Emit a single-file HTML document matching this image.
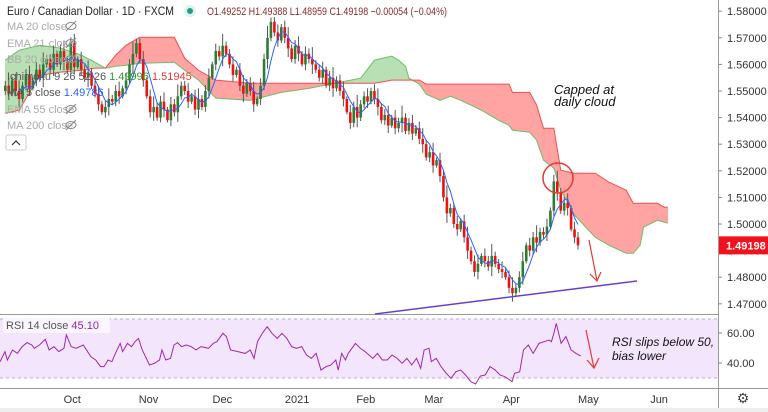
<!DOCTYPE html>
<html><head><meta charset="utf-8"><style>
html,body{margin:0;padding:0;background:#fff;width:768px;height:412px;overflow:hidden;font-family:"Liberation Sans",sans-serif}
svg{display:block}
</style></head><body>
<svg id="chart" width="768" height="412" xmlns="http://www.w3.org/2000/svg" font-family="Liberation Sans, sans-serif">
<g id="cloud"></g>
<g id="candles"></g>
<g id="ma"></g>
<rect x="0" y="314" width="718" height="75" fill="#fff"/>
<rect x="0" y="319" width="718" height="59" fill="#f3e6fc"/>
<line x1="0" y1="319" x2="718" y2="319" stroke="#b9a9c9" stroke-dasharray="3,3"/>
<line x1="0" y1="378" x2="718" y2="378" stroke="#b9a9c9" stroke-dasharray="3,3"/>
<g id="rsi"></g>
<line x1="0" y1="314.5" x2="718" y2="314.5" stroke="#9a9a9a"/>
<line x1="0" y1="388.5" x2="768" y2="388.5" stroke="#9a9a9a"/>
<line x1="718.5" y1="0" x2="718.5" y2="412" stroke="#9a9a9a"/>
<rect x="0" y="408" width="768" height="4" fill="#eee"/>
<g id="yaxis" font-size="11" fill="#333"></g>
<g id="raxis" font-size="11" fill="#333"></g>
<g id="xaxis" font-size="11" fill="#333"></g>
<text x="743" y="403" font-size="14" fill="#444" text-anchor="middle">⚙</text>

<g>
<line x1="375" y1="314" x2="637" y2="281" stroke="#6a3fc8" stroke-width="1.5"/>
<circle cx="558" cy="178" r="15" fill="none" stroke="#e53935" stroke-width="1.5"/>
<text x="554" y="94" font-size="13" font-style="italic" fill="#111">Capped at</text>
<text x="554" y="106" font-size="13" font-style="italic" fill="#111">daily cloud</text>
<line x1="589" y1="240" x2="597" y2="281" stroke="#e53935" stroke-width="1.2"/>
<polyline points="590,274 597,281 601,272" fill="none" stroke="#e53935" stroke-width="1.2"/>
<line x1="586" y1="330" x2="594" y2="368" stroke="#e53935" stroke-width="1.2"/>
<polyline points="587,360 594,368 599,358" fill="none" stroke="#e53935" stroke-width="1.2"/>
<text x="612" y="346" font-size="12" font-style="italic" fill="#111">RSI slips below 50,</text>
<text x="612" y="360" font-size="12" font-style="italic" fill="#111">bias lower</text>
</g>

<g font-size="11">
<text x="7" y="15" font-size="12" fill="#222" textLength="167" lengthAdjust="spacingAndGlyphs">Euro / Canadian Dollar · 1D · FXCM</text>
<circle cx="190" cy="11" r="6" fill="#e0f2ee"/><circle cx="190" cy="11" r="3" fill="#1e9e8a"/>
<text x="207" y="15" fill="#8b2a2a" font-size="11" textLength="240" lengthAdjust="spacingAndGlyphs">O1.49252 H1.49388 L1.48959 C1.49198 −0.00054 (−0.04%)</text>
<text x="7" y="30" fill="#aaa">MA 20 close</text>
<text x="7" y="47" fill="#aaa">EMA 21 close</text>
<text x="7" y="63" fill="#aaa">BB 20 close 2</text>
<text x="7" y="80" fill="#555">Ichimoku 9 26 52 26 <tspan fill="#2e9c2e">1.49996</tspan> <tspan fill="#e53935">1.51945</tspan></text>
<text x="7" y="96" fill="#555">MA 5 close <tspan fill="#2962ff">1.49786</tspan></text>
<text x="7" y="113" fill="#aaa">EMA 55 close</text>
<text x="7" y="129" fill="#aaa">MA 200 close</text>
<g fill="none" stroke="#888" stroke-width="1">
<ellipse cx="71" cy="26" rx="5" ry="3.5"/><line x1="66" y1="31" x2="76" y2="21"/>
<ellipse cx="71" cy="43" rx="5" ry="3.5"/><line x1="66" y1="48" x2="76" y2="38"/>
<ellipse cx="71" cy="59" rx="5" ry="3.5"/><line x1="66" y1="64" x2="76" y2="54"/>
<ellipse cx="71" cy="109" rx="5" ry="3.5"/><line x1="66" y1="114" x2="76" y2="104"/>
<ellipse cx="71" cy="125" rx="5" ry="3.5"/><line x1="66" y1="130" x2="76" y2="120"/>
</g>
<rect x="6" y="135" width="20" height="15" rx="2" fill="#fff" stroke="#ccc"/>
<polyline points="12,145 16,141 20,145" fill="none" stroke="#333" stroke-width="1.2"/>
<rect x="3" y="318" width="107" height="15" fill="#fbf6fe" opacity="0.9"/>
<text x="6" y="329" fill="#555">RSI 14 close <tspan fill="#8e24aa">45.10</tspan></text>
</g>
<g id="lastprice"></g>
</svg>
<script>
const closes=[1.5520,1.5490,1.5540,1.5500,1.5470,1.5520,1.5560,1.5510,1.5540,1.5580,1.5550,1.5600,
1.5620,1.5580,1.5640,1.5600,1.5650,1.5610,1.5580,1.5680,1.5590,
1.5620,1.5580,1.5550,1.5570,1.5520,1.5490,1.5450,
1.5420,1.5440,1.5470,1.5460,1.5500,1.5480,1.5510,
1.5540,1.5600,1.5640,1.5680,1.5620,1.5540,
1.5480,1.5420,1.5440,1.5400,1.5460,1.5430,
1.5390,1.5450,1.5420,1.5480,1.5520,1.5500,
1.5460,1.5480,1.5430,1.5470,1.5440,1.5500,
1.5550,1.5600,1.5650,1.5630,1.5670,1.5640,
1.5600,1.5560,1.5580,1.5520,1.5490,1.5530,1.5500,1.5450,1.5470,1.5520,
1.5620,1.5700,1.5760,1.5720,1.5690,1.5740,1.5700,
1.5660,1.5620,1.5670,1.5640,1.5600,1.5640,1.5620,
1.5600,1.5580,1.5550,1.5580,1.5520,1.5550,1.5510,1.5540,1.5500,1.5470,
1.5420,1.5380,1.5440,1.5400,1.5450,1.5480,1.5460,1.5500,1.5470,1.5440,
1.5390,1.5410,1.5370,1.5400,1.5360,1.5380,1.5400,1.5350,1.5380,1.5340,1.5360,1.5320,
1.5300,1.5250,1.5270,1.5220,1.5240,1.5180,
1.5100,1.5040,1.5060,1.5000,1.4980,1.5010,
1.4950,1.4900,1.4860,1.4820,1.4850,1.4880,
1.4860,1.4840,1.4880,1.4850,1.4830,1.4820,
1.4800,1.4760,1.4740,1.4760,
1.4800,1.4860,1.4920,1.4900,
1.4950,1.4930,1.4970,1.4960,1.4990,
1.5050,1.5160,1.5120,1.5050,1.5080,
1.5060,1.4980,1.4950,1.4920];
const firstOpen=1.5500;
const lastPrice="1.49198";
const wickPips=[18,30,12,25,40,15,22,35,10,28,20,45,16];
const cloudIdx=[0,4,10,16,22,26,29,32,35,39,49,52,56,61,71,80,88,97,103,107,112,114,116,117,120,122,126,129,132,138,143,146,147,152,154,156,159,161,165,171,175,180,182,184,185,189,191,192];
const spanA=[1.5616,1.5653,1.5672,1.5661,1.5635,1.5608,1.5586,1.5593,1.5597,1.5604,1.5608,1.5578,1.5541,1.5473,1.5465,1.5495,1.5510,1.5533,1.5548,1.5616,1.5631,1.5616,1.5593,1.5548,1.5526,1.5488,1.5465,1.5480,1.5465,1.5428,1.5390,1.5371,1.5353,1.5345,1.5315,1.5240,1.5210,1.5127,1.5033,1.4950,1.4920,1.4890,1.4890,1.4920,1.4988,1.5014,1.5007,1.5003];
const spanB=[1.5416,1.5428,1.5559,1.5571,1.5578,1.5586,1.5586,1.5635,1.5672,1.5702,1.5702,1.5623,1.5578,1.5541,1.5529,1.5529,1.5529,1.5529,1.5529,1.5529,1.5541,1.5541,1.5541,1.5541,1.5541,1.5526,1.5526,1.5526,1.5526,1.5526,1.5526,1.5526,1.5495,1.5495,1.5447,1.5360,1.5360,1.5202,1.5191,1.5191,1.5157,1.5127,1.5078,1.5078,1.5078,1.5078,1.5063,1.5063];
const rsiIdx=[-1.5,-0.1,0.6,2.1,3.5,4.9,6.3,7.7,8.4,9.9,11.6,12.7,14.1,15.5,17.0,17.7,19.1,20.5,22.6,24.8,26.2,27.6,28.6,29.8,30.9,31.9,33.3,34.0,35.4,36.6,37.6,38.6,39.7,41.8,43.2,44.7,45.4,46.5,47.9,48.9,49.9,51.1,52.5,53.9,55.3,56.7,58.9,60.3,61.3,63.1,64.1,65.3,67.4,69.5,71.0,72.1,73.1,74.5,75.9,77.3,78.8,80.2,81.6,83.0,84.4,85.9,87.3,88.7,90.1,91.5,93.0,94.4,95.8,96.5,97.5,98.6,99.4,101.5,102.9,104.3,106.5,107.9,109.3,110.7,112.1,113.6,115.0,116.4,117.8,119.2,120.4,121.4,122.8,123.5,124.9,126.3,127.8,129.2,130.6,132.0,133.4,134.9,136.3,137.7,139.1,140.5,142.0,143.4,144.8,146.2,146.9,147.6,149.1,150.2,151.6,153.0,154.7,156.2,157.6,158.3,159.0,159.7,161.1,162.5,164.0,165.4,166.8];
const rsiVals=[40.9,47.6,42.0,48.7,46.4,50.9,53.6,52.0,49.8,52.0,55.8,48.7,50.9,47.6,49.8,58.7,50.9,49.8,52.0,44.2,42.0,37.6,37.6,42.0,40.9,46.4,53.1,47.6,53.1,50.9,54.2,56.4,48.7,38.7,39.8,42.0,48.7,42.0,43.1,52.0,53.6,50.9,52.0,50.9,48.7,50.9,49.8,53.1,54.2,59.8,57.6,48.7,47.6,46.4,48.7,43.1,54.2,59.8,64.2,59.8,56.4,59.8,56.4,50.9,49.8,50.9,45.3,43.1,46.4,35.3,37.6,38.7,42.0,35.3,46.4,42.0,46.4,53.1,49.8,47.6,43.1,46.4,42.0,42.0,45.3,43.1,39.8,43.1,38.7,43.1,36.4,48.7,49.8,40.9,43.1,37.6,33.1,29.8,34.2,35.3,32.0,27.6,26.0,31.3,32.0,37.6,35.3,32.0,30.9,28.7,27.6,33.1,34.2,48.7,52.0,46.4,53.1,54.2,55.3,54.2,59.8,66.4,53.1,57.6,48.7,46.4,44.7];
const priceTicks=[1.58,1.57,1.56,1.55,1.54,1.53,1.52,1.51,1.50,1.49,1.48,1.47];
const rsiTicks=[60,40];
const monthLabels=["Oct","Nov","Dec","2021","Feb","Mar","Apr","May","Jun"];
const monthIdx=[19.4,41.5,62.9,84.6,104.5,124.2,146.7,169.0,189.5];

const NS="http://www.w3.org/2000/svg";
const N=closes.length, STEP=3.45, LASTX=578;
const xOf=i=>LASTX-(N-1-i)*STEP;
const yOf=p=>224+(1.50-p)/0.01*26.6;
const yR=v=>363-(v-40)*1.5;
function mk(tag,attrs,parent){const e=document.createElementNS(NS,tag);for(const k in attrs)e.setAttribute(k,attrs[k]);parent.appendChild(e);return e;}

const cg=document.getElementById('cloud');
for(let k=0;k<cloudIdx.length-1;k++){
  const x1=xOf(cloudIdx[k]),x2=xOf(cloudIdx[k+1]);
  const d=(spanA[k]-spanB[k])+(spanA[k+1]-spanB[k+1]);
  const p=mk('polygon',{points:`${x1},${yOf(spanA[k])} ${x2},${yOf(spanA[k+1])} ${x2},${yOf(spanB[k+1])} ${x1},${yOf(spanB[k])}`,fill:d>=0?'#b9dfb5':'#ffa3a3',stroke:d>=0?'#b9dfb5':'#ffa3a3','stroke-width':0.5},cg);
  
  
}
const aPts=cloudIdx.map((c,k)=>xOf(c)+','+yOf(spanA[k])).join(' ');
const bPts=cloudIdx.map((c,k)=>xOf(c)+','+yOf(spanB[k])).join(' ');
const la=mk('polyline',{points:aPts,fill:'none',stroke:'#6cbf66','stroke-width':1},cg);


const lb=mk('polyline',{points:bPts,fill:'none',stroke:'#f05050','stroke-width':1},cg);



const cdl=document.getElementById('candles');
for(let i=0;i<N;i++){
  const o=i?closes[i-1]:firstOpen,c=closes[i];
  const w=wickPips[i%wickPips.length]*0.0001;
  const hi=Math.max(o,c)+w,lo=Math.min(o,c)-w*0.8;
  const x=xOf(i),up=c>=o,col=up?'#2e7d32':'#ee1111';
  const g=mk('g',{},cdl);
  
  
  mk('line',{x1:x,x2:x,y1:yOf(hi),y2:yOf(lo),stroke:'#555','stroke-width':1},g);
  const yt=yOf(Math.max(o,c)),yb=yOf(Math.min(o,c));
  mk('rect',{x:x-1.3,y:yt,width:2.6,height:Math.max(1,yb-yt),fill:col},g);
}
const ma=[];for(let i=4;i<N;i++){let s=0;for(let j=i-4;j<=i;j++)s+=closes[j];ma.push(xOf(i)+','+yOf(s/5));}
const mal=mk('polyline',{points:ma.join(' '),fill:'none',stroke:'#2962ff','stroke-width':1},document.getElementById('ma'));



const rp=rsiIdx.map((t,k)=>Math.max(0,xOf(t))+','+yR(rsiVals[k]));
const rl=mk('polyline',{points:rp.join(' '),fill:'none',stroke:'#9c27b0','stroke-width':1},document.getElementById('rsi'));



const ya=document.getElementById('yaxis');
priceTicks.forEach(p=>{const y=yOf(p);mk('line',{x1:718,x2:722,y1:y,y2:y,stroke:'#888'},ya);
  const t=mk('text',{x:727,y:y+4},ya);t.textContent=p.toFixed(5);
  
  });
const ra=document.getElementById('raxis');
rsiTicks.forEach(v=>{const y=yR(v);mk('line',{x1:718,x2:722,y1:y,y2:y,stroke:'#888'},ra);
  const t=mk('text',{x:727,y:y+4},ra);t.textContent=v.toFixed(2);
  
  });
const xa=document.getElementById('xaxis');
monthLabels.forEach((m,k)=>{const t=mk('text',{x:xOf(monthIdx[k]),y:403,'text-anchor':'middle'},xa);t.textContent=m;
  
  });
const lp=document.getElementById('lastprice');const ly=yOf(parseFloat(lastPrice));
mk('rect',{x:719,y:ly-9,width:49,height:18,fill:'#f0131e'},lp);
const lt=mk('text',{x:726,y:ly+4,fill:'#fff','font-size':11,'font-weight':'bold'},lp);lt.textContent=lastPrice;


</script>
</body></html>
